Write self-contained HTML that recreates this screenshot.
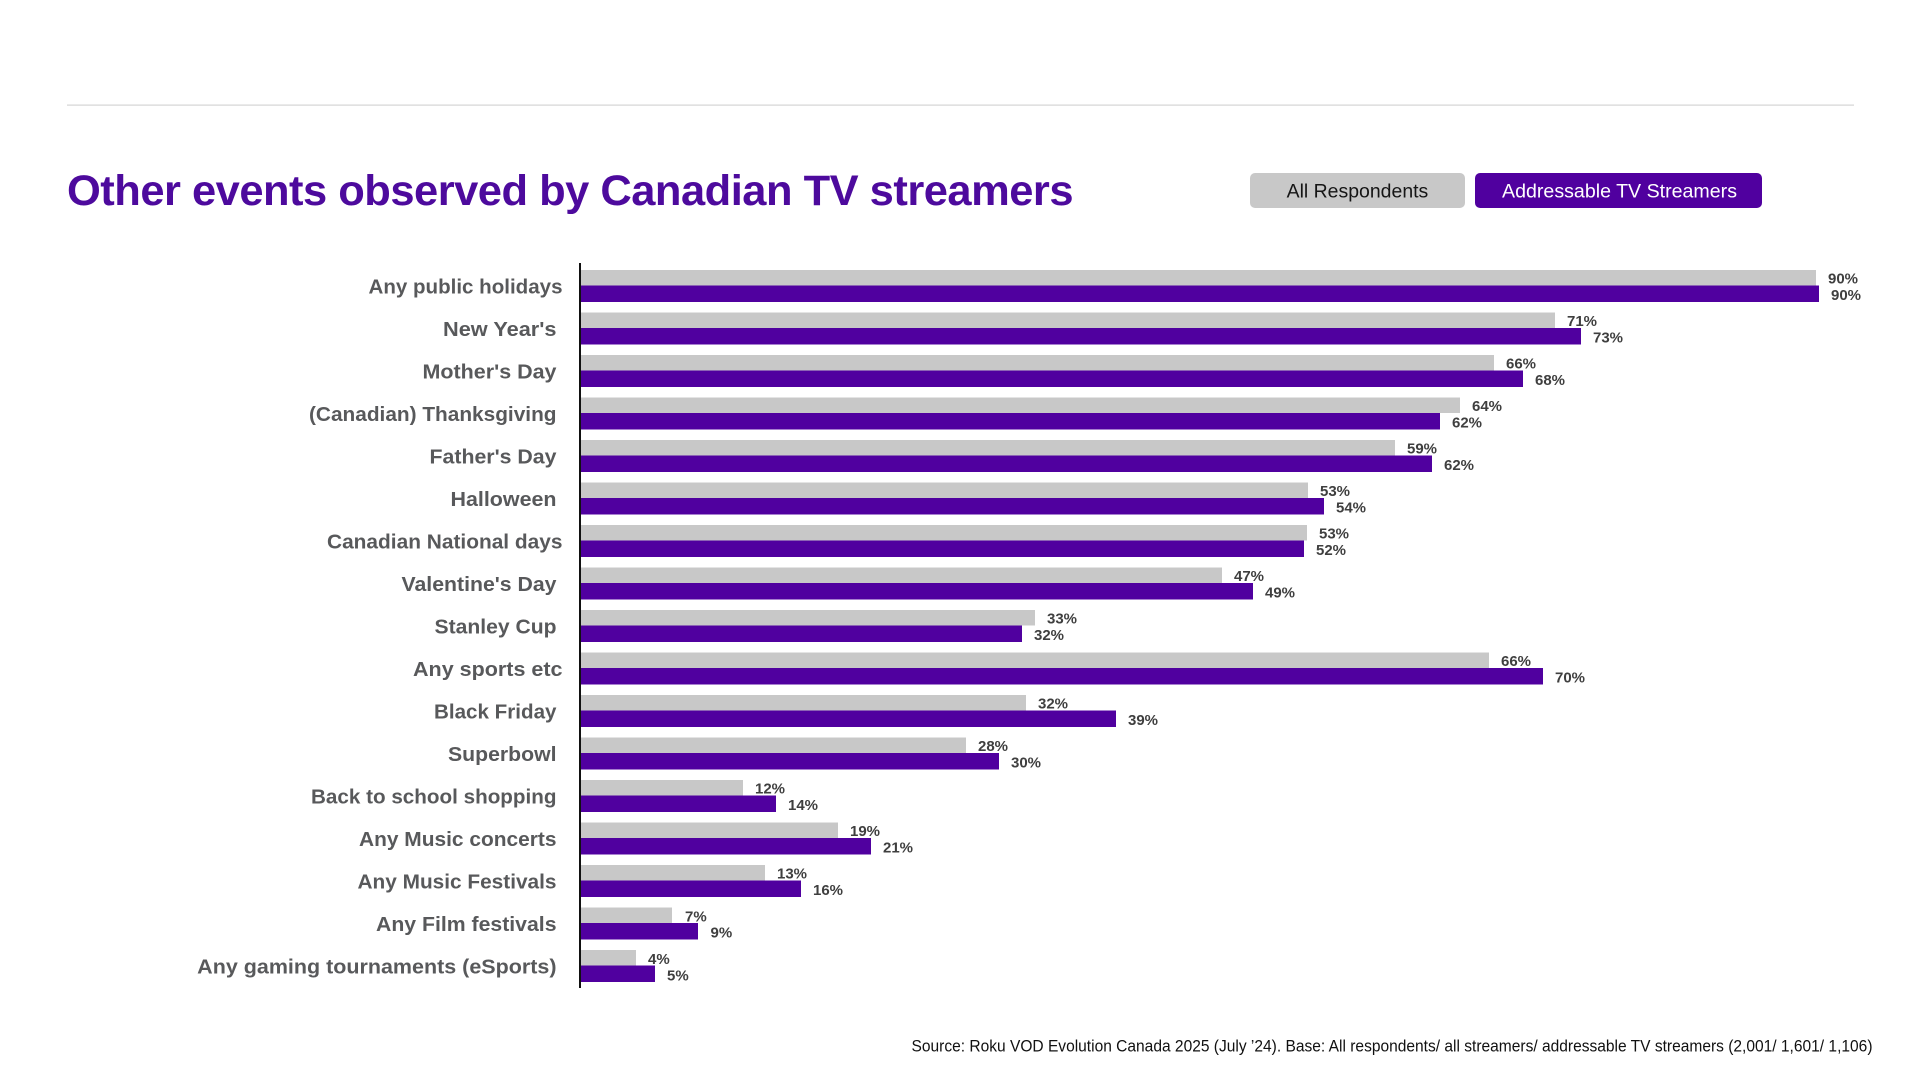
<!DOCTYPE html>
<html>
<head>
<meta charset="utf-8">
<style>
  html, body { margin: 0; padding: 0; background: #ffffff; }
  svg { display: block; }
  .cat { font-family: "Liberation Sans", Arial, sans-serif; font-weight: bold; font-size: 20.5px; fill: #58595b; }
  .val { font-family: "Liberation Sans", Arial, sans-serif; font-weight: bold; font-size: 15px; fill: #3f3f3f; }
</style>
</head>
<body>
<svg width="1920" height="1080" viewBox="0 0 1920 1080" xmlns="http://www.w3.org/2000/svg">
  <rect x="0" y="0" width="1920" height="1080" fill="#ffffff"/>
  <!-- divider -->
  <rect x="67" y="104.5" width="1787" height="1.2" fill="#d4d4d4"/>
  <!-- title -->
  <text x="67" y="205" font-family="Liberation Sans, Arial, sans-serif" font-weight="bold" font-size="42.5" fill="#4d0a9d" textLength="1006" lengthAdjust="spacingAndGlyphs" letter-spacing="-0.5">Other events observed by Canadian TV streamers</text>

  <!-- legend -->
  <rect x="1250" y="173" width="215" height="35" rx="5" ry="5" fill="#c8c8c8"/>
  <text x="1286.6" y="197.3" font-family="Liberation Sans, Arial, sans-serif" font-size="19.5" fill="#151515" textLength="141.7" lengthAdjust="spacingAndGlyphs">All Respondents</text>
  <rect x="1475" y="173" width="287" height="35" rx="5" ry="5" fill="#50009f"/>
  <text x="1502" y="197.3" font-family="Liberation Sans, Arial, sans-serif" font-size="19.5" fill="#ffffff" textLength="235" lengthAdjust="spacingAndGlyphs">Addressable TV Streamers</text>

  <!-- axis -->
  <rect x="579" y="263" width="2" height="725" fill="#111111"/>

  <!-- source -->
  <text x="911.5" y="1051.7" font-family="Liberation Sans, Arial, sans-serif" font-size="17" fill="#111111" textLength="961" lengthAdjust="spacingAndGlyphs">Source: Roku VOD Evolution Canada 2025 (July ’24). Base: All respondents/ all streamers/ addressable TV streamers (2,001/ 1,601/ 1,106)</text>

  <!-- rows -->
  <g>
    <!-- 0 -->
    <text class="cat" x="562.5" y="293.3" text-anchor="end" textLength="194" lengthAdjust="spacingAndGlyphs">Any public holidays</text>
    <rect x="581" y="270" width="1235" height="15.5" fill="#c8c8c8"/>
    <rect x="581" y="285.5" width="1238" height="16.5" fill="#50009f"/>
    <text class="val" x="1828" y="283.5">90%</text>
    <text class="val" x="1831" y="300">90%</text>
    <!-- 1 -->
    <text class="cat" x="556.5" y="335.8" text-anchor="end" textLength="113.5" lengthAdjust="spacingAndGlyphs">New Year's</text>
    <rect x="581" y="312.5" width="974" height="15.5" fill="#c8c8c8"/>
    <rect x="581" y="328" width="1000" height="16.5" fill="#50009f"/>
    <text class="val" x="1567" y="326">71%</text>
    <text class="val" x="1593" y="342.5">73%</text>
    <!-- 2 -->
    <text class="cat" x="556.5" y="378.3" text-anchor="end" textLength="134" lengthAdjust="spacingAndGlyphs">Mother's Day</text>
    <rect x="581" y="355" width="913" height="15.5" fill="#c8c8c8"/>
    <rect x="581" y="370.5" width="942" height="16.5" fill="#50009f"/>
    <text class="val" x="1506" y="368.5">66%</text>
    <text class="val" x="1535" y="385">68%</text>
    <!-- 3 -->
    <text class="cat" x="556.5" y="420.8" text-anchor="end" textLength="247.5" lengthAdjust="spacingAndGlyphs">(Canadian) Thanksgiving</text>
    <rect x="581" y="397.5" width="879" height="15.5" fill="#c8c8c8"/>
    <rect x="581" y="413" width="859" height="16.5" fill="#50009f"/>
    <text class="val" x="1472" y="411">64%</text>
    <text class="val" x="1452" y="427.5">62%</text>
    <!-- 4 -->
    <text class="cat" x="556.5" y="463.3" text-anchor="end" textLength="127" lengthAdjust="spacingAndGlyphs">Father's Day</text>
    <rect x="581" y="440" width="814" height="15.5" fill="#c8c8c8"/>
    <rect x="581" y="455.5" width="851" height="16.5" fill="#50009f"/>
    <text class="val" x="1407" y="453.5">59%</text>
    <text class="val" x="1444" y="470">62%</text>
    <!-- 5 -->
    <text class="cat" x="556.5" y="505.8" text-anchor="end" textLength="106" lengthAdjust="spacingAndGlyphs">Halloween</text>
    <rect x="581" y="482.5" width="727" height="15.5" fill="#c8c8c8"/>
    <rect x="581" y="498" width="743" height="16.5" fill="#50009f"/>
    <text class="val" x="1320" y="496">53%</text>
    <text class="val" x="1336" y="512.5">54%</text>
    <!-- 6 -->
    <text class="cat" x="562.5" y="548.3" text-anchor="end" textLength="235.5" lengthAdjust="spacingAndGlyphs">Canadian National days</text>
    <rect x="581" y="525" width="726" height="15.5" fill="#c8c8c8"/>
    <rect x="581" y="540.5" width="723" height="16.5" fill="#50009f"/>
    <text class="val" x="1319" y="538.5">53%</text>
    <text class="val" x="1316" y="555">52%</text>
    <!-- 7 -->
    <text class="cat" x="556.5" y="590.8" text-anchor="end" textLength="155" lengthAdjust="spacingAndGlyphs">Valentine's Day</text>
    <rect x="581" y="567.5" width="641" height="15.5" fill="#c8c8c8"/>
    <rect x="581" y="583" width="672" height="16.5" fill="#50009f"/>
    <text class="val" x="1234" y="581">47%</text>
    <text class="val" x="1265" y="597.5">49%</text>
    <!-- 8 -->
    <text class="cat" x="556.5" y="633.3" text-anchor="end" textLength="122" lengthAdjust="spacingAndGlyphs">Stanley Cup</text>
    <rect x="581" y="610" width="454" height="15.5" fill="#c8c8c8"/>
    <rect x="581" y="625.5" width="441" height="16.5" fill="#50009f"/>
    <text class="val" x="1047" y="623.5">33%</text>
    <text class="val" x="1034" y="640">32%</text>
    <!-- 9 -->
    <text class="cat" x="562.5" y="675.8" text-anchor="end" textLength="149.5" lengthAdjust="spacingAndGlyphs">Any sports etc</text>
    <rect x="581" y="652.5" width="908" height="15.5" fill="#c8c8c8"/>
    <rect x="581" y="668" width="962" height="16.5" fill="#50009f"/>
    <text class="val" x="1501" y="666">66%</text>
    <text class="val" x="1555" y="682.5">70%</text>
    <!-- 10 -->
    <text class="cat" x="556.5" y="718.3" text-anchor="end" textLength="122.5" lengthAdjust="spacingAndGlyphs">Black Friday</text>
    <rect x="581" y="695" width="445" height="15.5" fill="#c8c8c8"/>
    <rect x="581" y="710.5" width="535" height="16.5" fill="#50009f"/>
    <text class="val" x="1038" y="708.5">32%</text>
    <text class="val" x="1128" y="725">39%</text>
    <!-- 11 -->
    <text class="cat" x="556.5" y="760.8" text-anchor="end" textLength="108.5" lengthAdjust="spacingAndGlyphs">Superbowl</text>
    <rect x="581" y="737.5" width="385" height="15.5" fill="#c8c8c8"/>
    <rect x="581" y="753" width="418" height="16.5" fill="#50009f"/>
    <text class="val" x="978" y="751">28%</text>
    <text class="val" x="1011" y="767.5">30%</text>
    <!-- 12 -->
    <text class="cat" x="556.5" y="803.3" text-anchor="end" textLength="245.5" lengthAdjust="spacingAndGlyphs">Back to school shopping</text>
    <rect x="581" y="780" width="162" height="15.5" fill="#c8c8c8"/>
    <rect x="581" y="795.5" width="195" height="16.5" fill="#50009f"/>
    <text class="val" x="755" y="793.5">12%</text>
    <text class="val" x="788" y="810">14%</text>
    <!-- 13 -->
    <text class="cat" x="556.5" y="845.8" text-anchor="end" textLength="197.5" lengthAdjust="spacingAndGlyphs">Any Music concerts</text>
    <rect x="581" y="822.5" width="257" height="15.5" fill="#c8c8c8"/>
    <rect x="581" y="838" width="290" height="16.5" fill="#50009f"/>
    <text class="val" x="850" y="836">19%</text>
    <text class="val" x="883" y="852.5">21%</text>
    <!-- 14 -->
    <text class="cat" x="556.5" y="888.3" text-anchor="end" textLength="199" lengthAdjust="spacingAndGlyphs">Any Music Festivals</text>
    <rect x="581" y="865" width="184" height="15.5" fill="#c8c8c8"/>
    <rect x="581" y="880.5" width="220" height="16.5" fill="#50009f"/>
    <text class="val" x="777" y="878.5">13%</text>
    <text class="val" x="813" y="895">16%</text>
    <!-- 15 -->
    <text class="cat" x="556.5" y="930.8" text-anchor="end" textLength="180.5" lengthAdjust="spacingAndGlyphs">Any Film festivals</text>
    <rect x="581" y="907.5" width="91" height="15.5" fill="#c8c8c8"/>
    <rect x="581" y="923" width="117" height="16.5" fill="#50009f"/>
    <text class="val" x="685" y="921.5">7%</text>
    <text class="val" x="710.5" y="937.5">9%</text>
    <!-- 16 -->
    <text class="cat" x="556.5" y="973.3" text-anchor="end" textLength="359.3" lengthAdjust="spacingAndGlyphs">Any gaming tournaments (eSports)</text>
    <rect x="581" y="950" width="55" height="15.5" fill="#c8c8c8"/>
    <rect x="581" y="965.5" width="74" height="16.5" fill="#50009f"/>
    <text class="val" x="648" y="964">4%</text>
    <text class="val" x="667" y="980.5">5%</text>
  </g>
</svg>
</body>
</html>
